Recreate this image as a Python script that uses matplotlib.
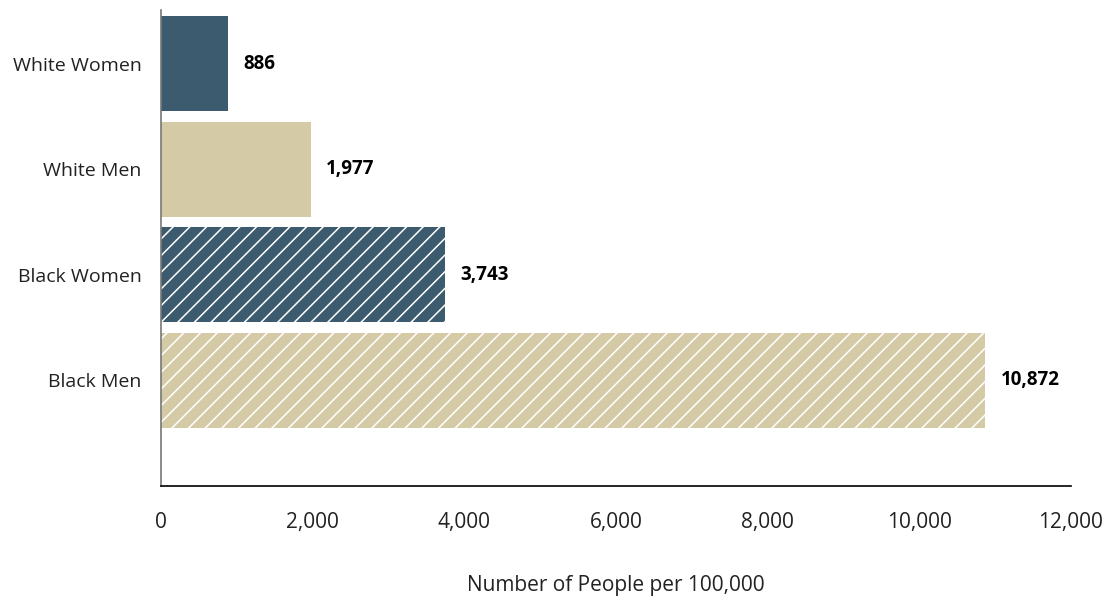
import numpy as np
import matplotlib
matplotlib.use("Agg")
import matplotlib.pyplot as plt

# incarceration rate by race and gender
groups = ["Black Men", "Black Women", "White Men", "White Women"]
rates = [10872, 3743, 1977, 886]
colors = ["#d4cba6", "#3d5b6f", "#d4cba6", "#3d5b6f"]
hatches = ["//", "//", "", ""]
xticks = [0, 2000, 4000, 6000, 8000, 10000, 12000]

plt.rcParams["font.family"] = ["Open Sans", "DejaVu Sans"]
plt.rcParams["hatch.linewidth"] = 1.1

fig = plt.figure(figsize=(11.08, 5.96), dpi=100)
ax = fig.add_axes([0.1453, 0.1846, 0.8213, 0.7984])

pos = np.arange(len(groups))
for y, val, c, h in zip(pos, rates, colors, hatches):
    ax.barh(y, val, height=0.9, color=c, hatch=h, edgecolor="white", linewidth=0)
    ax.text(val + 200, y, f"{val:,}", va="center", ha="left",
            fontsize=13.5, fontweight="bold", color="black")

ax.set_xlim(0, 12000)
ax.set_ylim(-1.0, 3.51)
ax.set_yticks(pos)
ax.set_yticklabels(groups, fontsize=14, color="#222222")
ax.set_xticks(xticks)
ax.set_xticklabels([f"{t:,}" for t in xticks], fontsize=15, color="#222222")
ax.tick_params(axis="both", length=0)
ax.tick_params(axis="x", pad=19)
ax.tick_params(axis="y", pad=14)

for s in ["top", "right"]:
    ax.spines[s].set_visible(False)
ax.spines["left"].set_color("#777777")
ax.spines["left"].set_linewidth(1.2)
ax.spines["bottom"].set_color("black")
ax.spines["bottom"].set_linewidth(1.2)

ax.set_xlabel("Number of People per 100,000", fontsize=15, color="#222222", labelpad=30)

fig.savefig("out.png", dpi=100)
